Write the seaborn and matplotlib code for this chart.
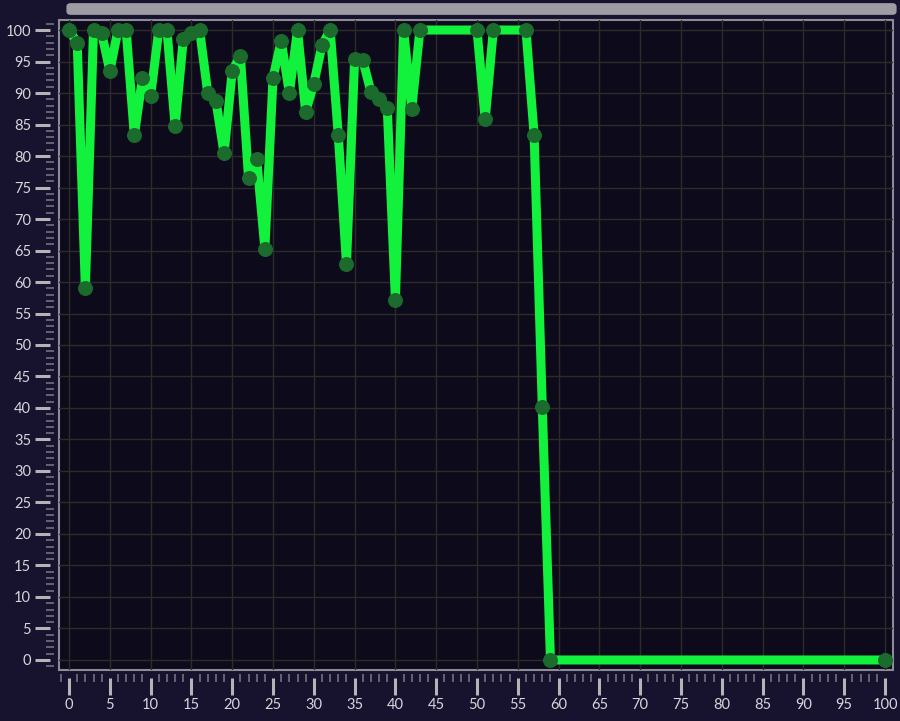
import numpy as np
import matplotlib
matplotlib.use('Agg')
import matplotlib.pyplot as plt
from matplotlib.patches import FancyBboxPatch
from matplotlib.ticker import MultipleLocator
import seaborn as sns

# values
steps = [0, 1, 2, 3, 4, 5, 6, 7, 8, 9, 10, 11, 12, 13, 14, 15, 16, 17, 18, 19,
         20, 21, 22, 23, 24, 25, 26, 27, 28, 29, 30, 31, 32, 33, 34, 35, 36, 37,
         38, 39, 40, 41, 42, 43, 50, 51, 52, 56, 57, 58, 59, 100]
score = [100, 98, 59, 100, 99.5, 93.5, 100, 100, 83.3, 92.4, 89.5, 100, 100, 84.8,
         98.5, 99.6, 100, 90, 88.8, 80.4, 93.5, 95.9, 76.5, 79.5, 65.3, 92.4, 98.3,
         90, 100, 87, 91.5, 97.6, 100, 83.3, 62.9, 95.4, 95.2, 90.2, 89, 87.6, 57.2,
         100, 87.5, 100, 100, 85.8, 100, 100, 83.3, 40.1, 0, 0]

sns.set_style('dark')
plt.rcParams['font.family'] = ['Lato', 'DejaVu Sans']

fig = plt.figure(figsize=(9, 7.21), dpi=100, facecolor='#17122d')
ax = fig.add_axes([59 / 900, 51 / 721, 834 / 900, 650 / 721])
ax.set_facecolor('#0d0b1b')

# scrollbar strip at top
fig.add_artist(FancyBboxPatch((70 / 900, 709 / 721), 823 / 900, 6 / 721,
                              boxstyle='round,pad=0.004,rounding_size=0.005',
                              transform=fig.transFigure, facecolor='#9c9ca2',
                              edgecolor='none'))

sns.lineplot(x=steps, y=score, ax=ax, color='#12f23c', linewidth=6.5,
             marker='o', markersize=10, markerfacecolor='#1b6b2d',
             markeredgecolor='#1b6b2d', zorder=3)

ax.set_xlim(-1.23, 100.98)
ax.set_ylim(-1.59, 101.59)
ax.xaxis.set_major_locator(MultipleLocator(5))
ax.yaxis.set_major_locator(MultipleLocator(5))
ax.xaxis.set_minor_locator(MultipleLocator(1))
ax.yaxis.set_minor_locator(MultipleLocator(1))
ax.grid(True, which='major', color='#2c2b28', linewidth=1)
ax.grid(False, which='minor')

# frame drawn by the axes patch, ticks hang off invisible offset spines
for side in ['top', 'right', 'left', 'bottom']:
    ax.spines[side].set_color('none')
ax.spines['left'].set_position(('outward', 6.3))
ax.spines['bottom'].set_position(('outward', 6))
ax.patch.set_edgecolor('#8c8c98')
ax.patch.set_linewidth(1.5)

ax.tick_params(which='both', left=True, bottom=True, top=False, right=False)
ax.tick_params(which='major', direction='out', width=2.2,
               color='#b4b4b8', labelcolor='#d6d6dc', labelsize=10.5)
ax.tick_params(axis='y', which='major', length=10.8, pad=2.9)
ax.tick_params(axis='x', which='major', length=12, pad=2)
ax.tick_params(which='minor', direction='inout', length=5.8, width=1.1,
               color='#7a7a84')
ax.set_xlabel('')
ax.set_ylabel('')

fig.savefig('out.png', dpi=100, facecolor=fig.get_facecolor())
